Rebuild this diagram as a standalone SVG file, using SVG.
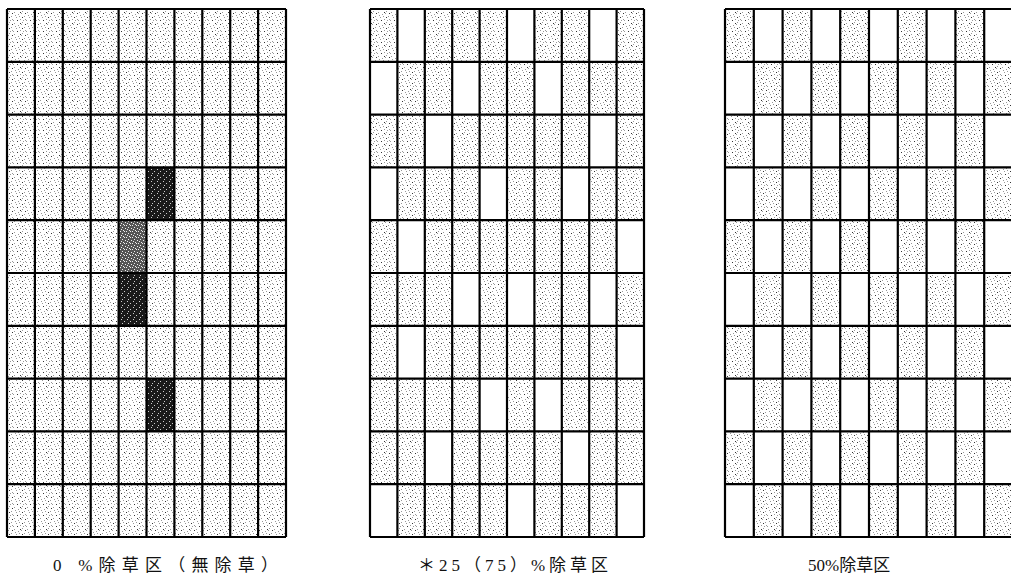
<svg xmlns="http://www.w3.org/2000/svg" width="1011" height="574" viewBox="0 0 1011 574">
<style>
.st{fill:url(#st)}
.dk{fill:url(#dk)}
.md{fill:url(#md)}
.bl{fill:#fff}
.ln{stroke:#000;stroke-width:2.2;fill:none}
.lb{font-family:"Liberation Serif","Noto Sans CJK JP",serif;font-size:17px;fill:#111}
</style>
<defs>
<pattern id="st" width="13" height="11" patternUnits="userSpaceOnUse">
<rect width="13" height="11" fill="#fff"/>
<path d="M1 1h1v1h-1z M5 3h1v1h-1z M9 0h1v1h-1z M11 5h1v1h-1z M3 6h1v1h-1z M7 8h1v1h-1z M0 9h1v1h-1z M10 9h1v1h-1z M6 5h1v1h-1z M8 2h1v1h-1z M2 4h1v1h-1z M12 8h1v1h-1z" fill="#999"/>
<path d="M4 9h1v1h-1z M12 2h1v1h-1z M7 1h1v1h-1z M9 6h1v1h-1z" fill="#333"/>
</pattern>
<pattern id="dk" width="6" height="6" patternUnits="userSpaceOnUse">
<rect width="6" height="6" fill="#1a1a1a"/>
<path d="M1 1h1v1h-1z M4 3h1v1h-1z M2 5h1v1h-1z" fill="#ccc"/>
</pattern>
<pattern id="md" width="6" height="6" patternUnits="userSpaceOnUse">
<rect width="6" height="6" fill="#555"/>
<path d="M1 1h1v1h-1z M4 3h1v1h-1z M2 5h1v1h-1z M5 0h1v1h-1z M0 3h1v1h-1z M3 2h1v1h-1z" fill="#eee"/>
</pattern>
</defs>

<g id="grid-0">
<rect class="st" x="7" y="9" width="279" height="528"/>
<rect class="dk" x="146.5" y="167.4" width="27.9" height="52.8"/>
<rect class="md" x="118.6" y="220.2" width="27.9" height="52.8"/>
<rect class="dk" x="118.6" y="273" width="27.9" height="52.8"/>
<rect class="dk" x="146.5" y="378.6" width="27.9" height="52.8"/>
<path class="ln" d="M7 9V537 M34.9 9V537 M62.8 9V537 M90.7 9V537 M118.6 9V537 M146.5 9V537 M174.4 9V537 M202.3 9V537 M230.2 9V537 M258.1 9V537 M286 9V537
M7 9H286 M7 61.8H286 M7 114.6H286 M7 167.4H286 M7 220.2H286 M7 273H286 M7 325.8H286 M7 378.6H286 M7 431.4H286 M7 484.2H286 M7 537H286"/>
<text class="lb" x="53" y="571" textLength="225" lengthAdjust="spacing">0 %除草区（無除草）</text>
</g>

<g id="grid-25">
<rect class="st" x="370" y="9" width="274" height="528"/>
<rect class="bl" x="397.4" y="9" width="27.4" height="52.8"/>
<rect class="bl" x="507" y="9" width="27.4" height="52.8"/>
<rect class="bl" x="589.2" y="9" width="27.4" height="52.8"/>
<rect class="bl" x="370" y="61.8" width="27.4" height="52.8"/>
<rect class="bl" x="452.2" y="61.8" width="27.4" height="52.8"/>
<rect class="bl" x="534.4" y="61.8" width="27.4" height="52.8"/>
<rect class="bl" x="424.8" y="114.6" width="27.4" height="52.8"/>
<rect class="bl" x="589.2" y="114.6" width="27.4" height="52.8"/>
<rect class="bl" x="370" y="167.4" width="27.4" height="52.8"/>
<rect class="bl" x="479.6" y="167.4" width="27.4" height="52.8"/>
<rect class="bl" x="561.8" y="167.4" width="27.4" height="52.8"/>
<rect class="bl" x="397.4" y="220.2" width="27.4" height="52.8"/>
<rect class="bl" x="616.6" y="220.2" width="27.4" height="52.8"/>
<rect class="bl" x="452.2" y="273" width="27.4" height="52.8"/>
<rect class="bl" x="507" y="273" width="27.4" height="52.8"/>
<rect class="bl" x="589.2" y="273" width="27.4" height="52.8"/>
<rect class="bl" x="397.4" y="325.8" width="27.4" height="52.8"/>
<rect class="bl" x="616.6" y="325.8" width="27.4" height="52.8"/>
<rect class="bl" x="479.6" y="378.6" width="27.4" height="52.8"/>
<rect class="bl" x="534.4" y="378.6" width="27.4" height="52.8"/>
<rect class="bl" x="424.8" y="431.4" width="27.4" height="52.8"/>
<rect class="bl" x="561.8" y="431.4" width="27.4" height="52.8"/>
<rect class="bl" x="370" y="484.2" width="27.4" height="52.8"/>
<rect class="bl" x="507" y="484.2" width="27.4" height="52.8"/>
<rect class="bl" x="616.6" y="484.2" width="27.4" height="52.8"/>
<path class="ln" d="M370 9V537 M397.4 9V537 M424.8 9V537 M452.2 9V537 M479.6 9V537 M507 9V537 M534.4 9V537 M561.8 9V537 M589.2 9V537 M616.6 9V537 M644 9V537
M370 9H644 M370 61.8H644 M370 114.6H644 M370 167.4H644 M370 220.2H644 M370 273H644 M370 325.8H644 M370 378.6H644 M370 431.4H644 M370 484.2H644 M370 537H644"/>
<text class="lb" x="418" y="571" textLength="190" lengthAdjust="spacing">＊25（75）%除草区</text>
</g>

<g id="grid-50">
<rect class="st" x="725" y="9" width="288" height="528"/>
<g class="bl">
<rect x="753.8" y="9" width="28.8" height="52.8"/><rect x="811.4" y="9" width="28.8" height="52.8"/><rect x="869" y="9" width="28.8" height="52.8"/><rect x="926.6" y="9" width="28.8" height="52.8"/><rect x="984.2" y="9" width="28.8" height="52.8"/>
<rect x="725" y="61.8" width="28.8" height="52.8"/><rect x="782.6" y="61.8" width="28.8" height="52.8"/><rect x="840.2" y="61.8" width="28.8" height="52.8"/><rect x="897.8" y="61.8" width="28.8" height="52.8"/><rect x="955.4" y="61.8" width="28.8" height="52.8"/>
<rect x="753.8" y="114.6" width="28.8" height="52.8"/><rect x="811.4" y="114.6" width="28.8" height="52.8"/><rect x="869" y="114.6" width="28.8" height="52.8"/><rect x="926.6" y="114.6" width="28.8" height="52.8"/><rect x="984.2" y="114.6" width="28.8" height="52.8"/>
<rect x="725" y="167.4" width="28.8" height="52.8"/><rect x="782.6" y="167.4" width="28.8" height="52.8"/><rect x="840.2" y="167.4" width="28.8" height="52.8"/><rect x="897.8" y="167.4" width="28.8" height="52.8"/><rect x="955.4" y="167.4" width="28.8" height="52.8"/>
<rect x="753.8" y="220.2" width="28.8" height="52.8"/><rect x="811.4" y="220.2" width="28.8" height="52.8"/><rect x="869" y="220.2" width="28.8" height="52.8"/><rect x="926.6" y="220.2" width="28.8" height="52.8"/><rect x="984.2" y="220.2" width="28.8" height="52.8"/>
<rect x="725" y="273" width="28.8" height="52.8"/><rect x="782.6" y="273" width="28.8" height="52.8"/><rect x="840.2" y="273" width="28.8" height="52.8"/><rect x="897.8" y="273" width="28.8" height="52.8"/><rect x="955.4" y="273" width="28.8" height="52.8"/>
<rect x="753.8" y="325.8" width="28.8" height="52.8"/><rect x="811.4" y="325.8" width="28.8" height="52.8"/><rect x="869" y="325.8" width="28.8" height="52.8"/><rect x="926.6" y="325.8" width="28.8" height="52.8"/><rect x="984.2" y="325.8" width="28.8" height="52.8"/>
<rect x="725" y="378.6" width="28.8" height="52.8"/><rect x="782.6" y="378.6" width="28.8" height="52.8"/><rect x="840.2" y="378.6" width="28.8" height="52.8"/><rect x="897.8" y="378.6" width="28.8" height="52.8"/><rect x="955.4" y="378.6" width="28.8" height="52.8"/>
<rect x="753.8" y="431.4" width="28.8" height="52.8"/><rect x="811.4" y="431.4" width="28.8" height="52.8"/><rect x="869" y="431.4" width="28.8" height="52.8"/><rect x="926.6" y="431.4" width="28.8" height="52.8"/><rect x="984.2" y="431.4" width="28.8" height="52.8"/>
<rect x="725" y="484.2" width="28.8" height="52.8"/><rect x="782.6" y="484.2" width="28.8" height="52.8"/><rect x="840.2" y="484.2" width="28.8" height="52.8"/><rect x="897.8" y="484.2" width="28.8" height="52.8"/><rect x="955.4" y="484.2" width="28.8" height="52.8"/>
</g>
<path class="ln" d="M725 9V537 M753.8 9V537 M782.6 9V537 M811.4 9V537 M840.2 9V537 M869 9V537 M897.8 9V537 M926.6 9V537 M955.4 9V537 M984.2 9V537
M725 9H1013 M725 61.8H1013 M725 114.6H1013 M725 167.4H1013 M725 220.2H1013 M725 273H1013 M725 325.8H1013 M725 378.6H1013 M725 431.4H1013 M725 484.2H1013 M725 537H1013"/>
<text class="lb" x="808" y="571">50%除草区</text>
</g>
</svg>
